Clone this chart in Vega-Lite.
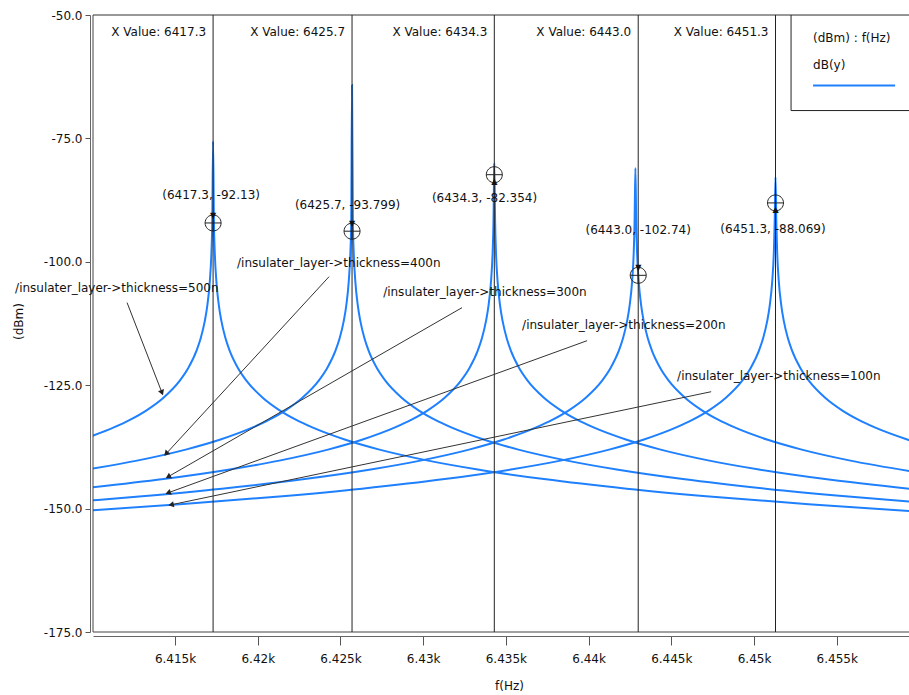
{
 "$schema": "https://vega.github.io/schema/vega-lite/v6.json",
 "width": 816,
 "height": 617,
 "autosize": {"type": "none"},
 "padding": {"left": 93, "top": 15, "right": 0, "bottom": 63},
 "background": "white",
 "config": {
  "view": {"stroke": null},
  "font": "DejaVu Sans",
  "text": {"font": "DejaVu Sans", "fontSize": 12, "color": "#111"},
  "axis": {"labelFont": "DejaVu Sans", "titleFont": "DejaVu Sans", "labelFontSize": 12, "titleFontSize": 12, "titleFontWeight": "normal", "labelColor": "#111", "titleColor": "#111", "grid": false, "domainColor": "#666", "tickColor": "#555"}
 },
 "datasets": {
  "curves": [
   {"s":"500n","f":6410,"v":-135.27},{"s":"500n","f":6411.3,"v":-133.56},{"s":"500n","f":6412.3,"v":-131.98},{"s":"500n","f":6413.3,"v":-130.04},{"s":"500n","f":6414.3,"v":-127.54},{"s":"500n","f":6415.3,"v":-124.02},{"s":"500n","f":6415.8,"v":-121.52},{"s":"500n","f":6416.3,"v":-118},{"s":"500n","f":6416.55,"v":-115.5},{"s":"500n","f":6416.8,"v":-111.98},{"s":"500n","f":6416.95,"v":-108.88},{"s":"500n","f":6417.1,"v":-104.02},{"s":"500n","f":6417.2,"v":-98},{"s":"500n","f":6417.25,"v":-91.98},{"s":"500n","f":6417.3,"v":-75.6},{"s":"500n","f":6417.35,"v":-91.98},{"s":"500n","f":6417.4,"v":-98},{"s":"500n","f":6417.5,"v":-104.02},{"s":"500n","f":6417.65,"v":-108.88},{"s":"500n","f":6417.8,"v":-111.98},{"s":"500n","f":6418.05,"v":-115.5},{"s":"500n","f":6418.3,"v":-118},{"s":"500n","f":6418.8,"v":-121.52},{"s":"500n","f":6419.3,"v":-124.02},{"s":"500n","f":6420.3,"v":-127.54},{"s":"500n","f":6421.3,"v":-130.04},{"s":"500n","f":6422.3,"v":-131.98},{"s":"500n","f":6423.3,"v":-133.56},{"s":"500n","f":6425.3,"v":-136.06},{"s":"500n","f":6427.3,"v":-138},{"s":"500n","f":6430.3,"v":-140.28},{"s":"500n","f":6433.3,"v":-142.08},{"s":"500n","f":6437.3,"v":-144.02},{"s":"500n","f":6442.3,"v":-145.96},{"s":"500n","f":6447.3,"v":-147.54},{"s":"500n","f":6453.3,"v":-149.13},{"s":"500n","f":6459.5,"v":-150.51},
   {"s":"400n","f":6410,"v":-141.92},{"s":"400n","f":6412.7,"v":-140.28},{"s":"400n","f":6415.7,"v":-138},{"s":"400n","f":6417.7,"v":-136.06},{"s":"400n","f":6419.7,"v":-133.56},{"s":"400n","f":6420.7,"v":-131.98},{"s":"400n","f":6421.7,"v":-130.04},{"s":"400n","f":6422.7,"v":-127.54},{"s":"400n","f":6423.7,"v":-124.02},{"s":"400n","f":6424.2,"v":-121.52},{"s":"400n","f":6424.7,"v":-118},{"s":"400n","f":6424.95,"v":-115.5},{"s":"400n","f":6425.2,"v":-111.98},{"s":"400n","f":6425.35,"v":-108.88},{"s":"400n","f":6425.5,"v":-104.02},{"s":"400n","f":6425.6,"v":-98},{"s":"400n","f":6425.65,"v":-91.98},{"s":"400n","f":6425.7,"v":-64.2},{"s":"400n","f":6425.75,"v":-91.98},{"s":"400n","f":6425.8,"v":-98},{"s":"400n","f":6425.9,"v":-104.02},{"s":"400n","f":6426.05,"v":-108.88},{"s":"400n","f":6426.2,"v":-111.98},{"s":"400n","f":6426.45,"v":-115.5},{"s":"400n","f":6426.7,"v":-118},{"s":"400n","f":6427.2,"v":-121.52},{"s":"400n","f":6427.7,"v":-124.02},{"s":"400n","f":6428.7,"v":-127.54},{"s":"400n","f":6429.7,"v":-130.04},{"s":"400n","f":6430.7,"v":-131.98},{"s":"400n","f":6431.7,"v":-133.56},{"s":"400n","f":6433.7,"v":-136.06},{"s":"400n","f":6435.7,"v":-138},{"s":"400n","f":6438.7,"v":-140.28},{"s":"400n","f":6441.7,"v":-142.08},{"s":"400n","f":6445.7,"v":-144.02},{"s":"400n","f":6450.7,"v":-145.96},{"s":"400n","f":6455.7,"v":-147.54},{"s":"400n","f":6459.5,"v":-148.58},
   {"s":"300n","f":6410,"v":-145.71},{"s":"300n","f":6414.3,"v":-144.02},{"s":"300n","f":6418.3,"v":-142.08},{"s":"300n","f":6421.3,"v":-140.28},{"s":"300n","f":6424.3,"v":-138},{"s":"300n","f":6426.3,"v":-136.06},{"s":"300n","f":6428.3,"v":-133.56},{"s":"300n","f":6429.3,"v":-131.98},{"s":"300n","f":6430.3,"v":-130.04},{"s":"300n","f":6431.3,"v":-127.54},{"s":"300n","f":6432.3,"v":-124.02},{"s":"300n","f":6432.8,"v":-121.52},{"s":"300n","f":6433.3,"v":-118},{"s":"300n","f":6433.55,"v":-115.5},{"s":"300n","f":6433.8,"v":-111.98},{"s":"300n","f":6433.95,"v":-108.88},{"s":"300n","f":6434.1,"v":-104.02},{"s":"300n","f":6434.2,"v":-98},{"s":"300n","f":6434.25,"v":-91.98},{"s":"300n","f":6434.3,"v":-80},{"s":"300n","f":6434.35,"v":-91.98},{"s":"300n","f":6434.4,"v":-98},{"s":"300n","f":6434.5,"v":-104.02},{"s":"300n","f":6434.65,"v":-108.88},{"s":"300n","f":6434.8,"v":-111.98},{"s":"300n","f":6435.05,"v":-115.5},{"s":"300n","f":6435.3,"v":-118},{"s":"300n","f":6435.8,"v":-121.52},{"s":"300n","f":6436.3,"v":-124.02},{"s":"300n","f":6437.3,"v":-127.54},{"s":"300n","f":6438.3,"v":-130.04},{"s":"300n","f":6439.3,"v":-131.98},{"s":"300n","f":6440.3,"v":-133.56},{"s":"300n","f":6442.3,"v":-136.06},{"s":"300n","f":6444.3,"v":-138},{"s":"300n","f":6447.3,"v":-140.28},{"s":"300n","f":6450.3,"v":-142.08},{"s":"300n","f":6454.3,"v":-144.02},{"s":"300n","f":6459.5,"v":-146.03},
   {"s":"200n","f":6410,"v":-148.33},{"s":"200n","f":6412.83,"v":-147.54},{"s":"200n","f":6417.83,"v":-145.96},{"s":"200n","f":6422.83,"v":-144.02},{"s":"200n","f":6426.83,"v":-142.08},{"s":"200n","f":6429.83,"v":-140.28},{"s":"200n","f":6432.83,"v":-138},{"s":"200n","f":6434.83,"v":-136.06},{"s":"200n","f":6436.83,"v":-133.56},{"s":"200n","f":6437.83,"v":-131.98},{"s":"200n","f":6438.83,"v":-130.04},{"s":"200n","f":6439.83,"v":-127.54},{"s":"200n","f":6440.83,"v":-124.02},{"s":"200n","f":6441.33,"v":-121.52},{"s":"200n","f":6441.83,"v":-118},{"s":"200n","f":6442.08,"v":-115.5},{"s":"200n","f":6442.33,"v":-111.98},{"s":"200n","f":6442.48,"v":-108.88},{"s":"200n","f":6442.63,"v":-104.02},{"s":"200n","f":6442.73,"v":-98},{"s":"200n","f":6442.78,"v":-91.98},{"s":"200n","f":6442.83,"v":-81},{"s":"200n","f":6442.88,"v":-91.98},{"s":"200n","f":6442.93,"v":-98},{"s":"200n","f":6443.03,"v":-104.02},{"s":"200n","f":6443.18,"v":-108.88},{"s":"200n","f":6443.33,"v":-111.98},{"s":"200n","f":6443.58,"v":-115.5},{"s":"200n","f":6443.83,"v":-118},{"s":"200n","f":6444.33,"v":-121.52},{"s":"200n","f":6444.83,"v":-124.02},{"s":"200n","f":6445.83,"v":-127.54},{"s":"200n","f":6446.83,"v":-130.04},{"s":"200n","f":6447.83,"v":-131.98},{"s":"200n","f":6448.83,"v":-133.56},{"s":"200n","f":6450.83,"v":-136.06},{"s":"200n","f":6452.83,"v":-138},{"s":"200n","f":6455.83,"v":-140.28},{"s":"200n","f":6459.5,"v":-142.44},
   {"s":"100n","f":6410,"v":-150.32},{"s":"100n","f":6415.3,"v":-149.13},{"s":"100n","f":6421.3,"v":-147.54},{"s":"100n","f":6426.3,"v":-145.96},{"s":"100n","f":6431.3,"v":-144.02},{"s":"100n","f":6435.3,"v":-142.08},{"s":"100n","f":6438.3,"v":-140.28},{"s":"100n","f":6441.3,"v":-138},{"s":"100n","f":6443.3,"v":-136.06},{"s":"100n","f":6445.3,"v":-133.56},{"s":"100n","f":6446.3,"v":-131.98},{"s":"100n","f":6447.3,"v":-130.04},{"s":"100n","f":6448.3,"v":-127.54},{"s":"100n","f":6449.3,"v":-124.02},{"s":"100n","f":6449.8,"v":-121.52},{"s":"100n","f":6450.3,"v":-118},{"s":"100n","f":6450.55,"v":-115.5},{"s":"100n","f":6450.8,"v":-111.98},{"s":"100n","f":6450.95,"v":-108.88},{"s":"100n","f":6451.1,"v":-104.02},{"s":"100n","f":6451.2,"v":-98},{"s":"100n","f":6451.25,"v":-91.98},{"s":"100n","f":6451.3,"v":-82.8},{"s":"100n","f":6451.35,"v":-91.98},{"s":"100n","f":6451.4,"v":-98},{"s":"100n","f":6451.5,"v":-104.02},{"s":"100n","f":6451.65,"v":-108.88},{"s":"100n","f":6451.8,"v":-111.98},{"s":"100n","f":6452.05,"v":-115.5},{"s":"100n","f":6452.3,"v":-118},{"s":"100n","f":6452.8,"v":-121.52},{"s":"100n","f":6453.3,"v":-124.02},{"s":"100n","f":6454.3,"v":-127.54},{"s":"100n","f":6455.3,"v":-130.04},{"s":"100n","f":6456.3,"v":-131.98},{"s":"100n","f":6457.3,"v":-133.56},{"s":"100n","f":6459.5,"v":-136.28}
  ],
  "markers": [
   {"f":6417.3,"v":-92.13,"lab":"(6417.3, -92.13)","xv":"X Value: 6417.3","lx":6417.18,"ly":-86.39},
   {"f":6425.7,"v":-93.799,"lab":"(6425.7, -93.799)","xv":"X Value: 6425.7","lx":6425.43,"ly":-88.41},
   {"f":6434.3,"v":-82.354,"lab":"(6434.3, -82.354)","xv":"X Value: 6434.3","lx":6433.71,"ly":-87.06},
   {"f":6443.0,"v":-102.74,"lab":"(6443.0, -102.74)","xv":"X Value: 6443.0","lx":6443.0,"ly":-93.48},
   {"f":6451.3,"v":-88.069,"lab":"(6451.3, -88.069)","xv":"X Value: 6451.3","lx":6451.15,"ly":-93.28}
  ],
  "ann": [
   {"t":"/insulater_layer->thickness=500n","tx":6405.33,"ty":-105.24,"x1":6412.10,"y1":-108.28,"x2":6414.21,"y2":-126.52},
   {"t":"/insulater_layer->thickness=400n","tx":6418.75,"ty":-100.17,"x1":6424.31,"y1":-103.01,"x2":6414.46,"y2":-138.89},
   {"t":"/insulater_layer->thickness=300n","tx":6427.58,"ty":-106.15,"x1":6432.35,"y1":-109.29,"x2":6414.58,"y2":-143.55},
   {"t":"/insulater_layer->thickness=200n","tx":6435.98,"ty":-112.74,"x1":6439.91,"y1":-115.98,"x2":6414.58,"y2":-146.8},
   {"t":"/insulater_layer->thickness=100n","tx":6445.35,"ty":-123.08,"x1":6447.41,"y1":-126.32,"x2":6414.76,"y2":-149.23}
  ]
 },
 "layer": [
  {
   "data": {"name": "curves"},
   "mark": {"type": "line", "color": "#1f80ff", "strokeWidth": 2, "clip": true, "interpolate": "monotone"},
   "encoding": {
    "x": {"field": "f", "type": "quantitative", "scale": {"domain": [6410.04, 6459.37], "nice": false, "zero": false},
     "axis": {"title": "f(Hz)", "values": [6415, 6420, 6425, 6430, 6435, 6440, 6445, 6450, 6455], "labelExpr": "(datum.value/1000) + 'k'", "offset": 4, "tickSize": 9, "labelPadding": 8, "titleX": 416, "titleY": 49, "titleBaseline": "middle"}},
    "y": {"field": "v", "type": "quantitative", "scale": {"domain": [-175, -50], "nice": false, "zero": false},
     "axis": {"title": "(dBm)", "values": [-175, -150, -125, -100, -75, -50], "labelExpr": "replace(format(datum.value, '.1f'), '\u2212', '-')", "offset": 3, "tickSize": 5, "labelPadding": 3, "titleX": -72, "titleY": 306, "titleBaseline": "middle"}},
    "detail": {"field": "s"}
   }
  },
  {"data": {"values": [{}]}, "mark": {"type": "rule", "color": "#444", "strokeWidth": 1}, "encoding": {"x": {"datum": 6410.04}}},
  {"data": {"values": [{}]}, "mark": {"type": "rule", "color": "#444", "strokeWidth": 1}, "encoding": {"y": {"datum": -175}}},
  {"data": {"values": [{}]}, "mark": {"type": "rule", "color": "#333", "strokeWidth": 1}, "encoding": {"y": {"datum": -50}}},
  {"data": {"name": "markers"}, "mark": {"type": "rule", "color": "#222", "strokeWidth": 1}, "encoding": {"x": {"field": "f", "type": "quantitative"}}},
  {"data": {"name": "ann"}, "mark": {"type": "rule", "color": "#333", "strokeWidth": 1},
   "encoding": {"x": {"field": "x1", "type": "quantitative"}, "y": {"field": "y1", "type": "quantitative"}, "x2": {"field": "x2"}, "y2": {"field": "y2"}}},
  {"data": {"name": "ann"}, "mark": {"type": "point", "shape": "triangle-up", "filled": true, "color": "#222", "size": 40, "opacity": 1},
   "encoding": {"x": {"field": "x2", "type": "quantitative"}, "y": {"field": "y2", "type": "quantitative"},
    "angle": {"field": "t", "type": "nominal", "legend": null, "scale": {"type": "ordinal", "domain": ["/insulater_layer->thickness=500n", "/insulater_layer->thickness=400n", "/insulater_layer->thickness=300n", "/insulater_layer->thickness=200n", "/insulater_layer->thickness=100n"], "range": [158.8, 222.6, 240.1, 250.1, 258.2]}}}},
  {"data": {"name": "ann"}, "mark": {"type": "text", "align": "left", "baseline": "middle"},
   "encoding": {"x": {"field": "tx", "type": "quantitative"}, "y": {"field": "ty", "type": "quantitative"}, "text": {"field": "t"}}},
  {"data": {"name": "markers"}, "mark": {"type": "point", "shape": "M-1,0A1,1,0,1,1,1,0A1,1,0,1,1,-1,0ZM-1,0L1,0M0,-1L0,1", "size": 256, "filled": false, "stroke": "#222", "strokeWidth": 1, "opacity": 1},
   "encoding": {"x": {"field": "f", "type": "quantitative"}, "y": {"field": "v", "type": "quantitative"}}},
  {"data": {"name": "markers"}, "transform": [{"filter": "datum.ly > datum.v"}], "mark": {"type": "text", "text": "▼", "dy": -7, "fontSize": 8, "color": "#111"},
   "encoding": {"x": {"field": "f", "type": "quantitative"}, "y": {"field": "v", "type": "quantitative"}}},
  {"data": {"name": "markers"}, "transform": [{"filter": "datum.ly < datum.v"}], "mark": {"type": "text", "text": "▲", "dy": 7, "fontSize": 8, "color": "#111"},
   "encoding": {"x": {"field": "f", "type": "quantitative"}, "y": {"field": "v", "type": "quantitative"}}},
  {"data": {"name": "markers"}, "mark": {"type": "text", "align": "center", "baseline": "middle"},
   "encoding": {"x": {"field": "lx", "type": "quantitative"}, "y": {"field": "ly", "type": "quantitative"}, "text": {"field": "lab"}}},
  {"data": {"name": "markers"}, "mark": {"type": "text", "align": "right", "baseline": "middle", "dx": -7},
   "encoding": {"x": {"field": "f", "type": "quantitative"}, "y": {"datum": -53.4}, "text": {"field": "xv"}}},
  {"data": {"values": [{}]}, "mark": {"type": "rect", "fill": "white", "stroke": "#222", "strokeWidth": 1, "clip": true},
   "encoding": {"x": {"datum": 6452.24}, "x2": {"datum": 6462}, "y": {"datum": -50}, "y2": {"datum": -69.36}}},
  {"data": {"values": [{}]}, "mark": {"type": "text", "align": "left", "baseline": "middle", "text": "(dBm) : f(Hz)"},
   "encoding": {"x": {"datum": 6453.57}, "y": {"datum": -54.56}}},
  {"data": {"values": [{}]}, "mark": {"type": "text", "align": "left", "baseline": "middle", "text": "dB(y)"},
   "encoding": {"x": {"datum": 6453.57}, "y": {"datum": -60.03}}},
  {"data": {"values": [{}]}, "mark": {"type": "rule", "color": "#1f80ff", "strokeWidth": 2},
   "encoding": {"x": {"datum": 6453.57}, "x2": {"datum": 6458.53}, "y": {"datum": -64.29}}}
 ]
}
